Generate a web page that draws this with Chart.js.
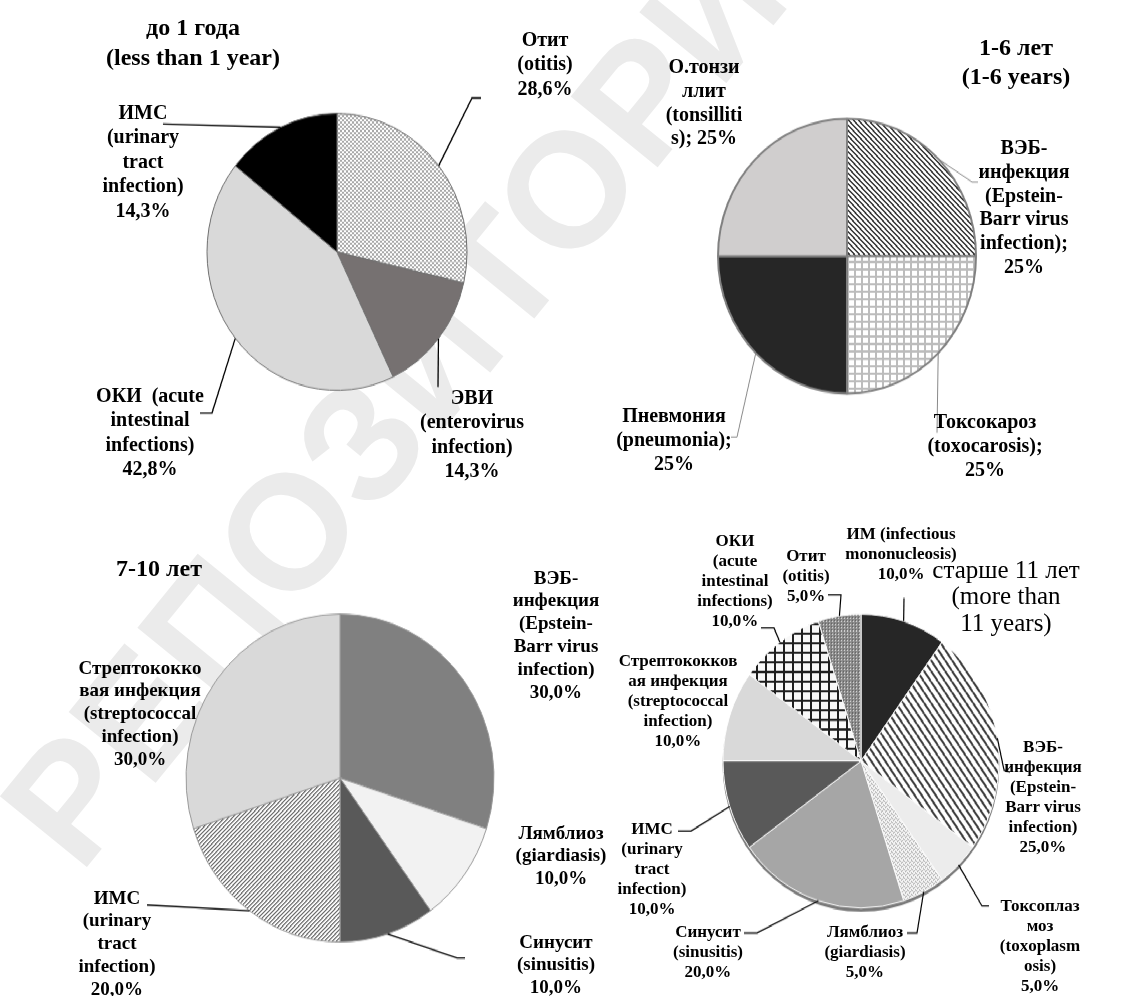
<!DOCTYPE html>
<html><head><meta charset="utf-8">
<script src="https://cdn.jsdelivr.net/npm/chart.js@4.4.1/dist/chart.umd.min.js"></script>
<style>
html,body{margin:0;padding:0;background:#fff;width:1128px;height:996px;overflow:hidden;position:relative;}
#wm{position:absolute;left:430px;top:357px;transform:translate(-50%,-50%) rotate(-50.8deg);font:bold 163px "Liberation Sans",Arial,sans-serif;color:#ebebeb;line-height:1;white-space:nowrap;}
#stage{position:absolute;left:0;top:0;width:1128px;height:935px;transform:scaleY(1.065);transform-origin:0 0;}
#stage canvas{position:absolute;left:0;top:0;}
#labels{position:absolute;left:0;top:0;width:1128px;height:996px;}
.lbl{position:absolute;font-family:"Liberation Serif","Times New Roman",serif;font-weight:bold;color:#000;text-align:center;white-space:pre;transform:translateX(-50%);}
</style></head>
<body>
<div id="wm">РЕПОЗИТОРИЙ</div>
<div id="stage">
<canvas id="c1" width="1128" height="935"></canvas>
<canvas id="c2" width="1128" height="935"></canvas>
<canvas id="c3" width="1128" height="935"></canvas>
<canvas id="c4" width="1128" height="935"></canvas>
</div>
<div id="labels"></div>
<script>
// ---------- data ----------
const c1Categories = ['Отит (otitis)', 'ЭВИ (enterovirus infection)', 'ОКИ (acute intestinal infections)', 'ИМС (urinary tract infection)'];
const c1Values = [28.6, 14.3, 42.8, 14.3];
const c1Text = ['Отит\n(otitis)\n{v}', 'ЭВИ\n(enterovirus\ninfection)\n{v}', 'ОКИ\u00a0 (acute\nintestinal\ninfections)\n{v}', 'ИМС\n(urinary\ntract\ninfection)\n{v}'];
const c1Title = 'до 1 года\n(less than 1 year)';

const c2Categories = ['ВЭБ-инфекция (Epstein-Barr virus infection)', 'Токсокароз (toxocarosis)', 'Пневмония (pneumonia)', 'О.тонзиллит (tonsillitis)'];
const c2Values = [25, 25, 25, 25];
const c2Text = ['ВЭБ-\nинфекция\n(Epstein-\nBarr virus\ninfection);\n{v}', 'Токсокароз\n(toxocarosis);\n{v}', 'Пневмония\n(pneumonia);\n{v}', 'О.тонзи\nллит\n(tonsilliti\ns); {v}'];
const c2Title = '1-6 лет\n(1-6 years)';

const c3Categories = ['ВЭБ-инфекция (Epstein-Barr virus infection)', 'Лямблиоз (giardiasis)', 'Синусит (sinusitis)', 'ИМС (urinary tract infection)', 'Стрептококковая инфекция (streptococcal infection)'];
const c3Values = [30, 10, 10, 20, 30];
const c3Text = ['ВЭБ-\nинфекция\n(Epstein-\nBarr virus\ninfection)\n{v}', 'Лямблиоз\n(giardiasis)\n{v}', 'Синусит\n(sinusitis)\n{v}', 'ИМС\n(urinary\ntract\ninfection)\n{v}', 'Стрептококко\nвая инфекция\n(streptococcal\ninfection)\n{v}'];
const c3Title = '7-10 лет';

const c4Categories = ['ИМ (infectious mononucleosis)', 'ВЭБ-инфекция (Epstein-Barr virus infection)', 'Токсоплазмоз (toxoplasmosis)', 'Лямблиоз (giardiasis)', 'Синусит (sinusitis)', 'ИМС (urinary tract infection)', 'Стрептококковая инфекция (streptococcal infection)', 'ОКИ (acute intestinal infections)', 'Отит (otitis)'];
const c4Values = [10, 25, 5, 5, 20, 10, 10, 10, 5];
const c4Text = ['ИМ (infectious\nmononucleosis)\n{v}', 'ВЭБ-\nинфекция\n(Epstein-\nBarr virus\ninfection)\n{v}', 'Токсоплаз\nмоз\n(toxoplasm\nosis)\n{v}', 'Лямблиоз\n(giardiasis)\n{v}', 'Синусит\n(sinusitis)\n{v}', 'ИМС\n(urinary\ntract\ninfection)\n{v}', 'Стрептококков\nая инфекция\n(streptococcal\ninfection)\n{v}', 'ОКИ\n(acute\nintestinal\ninfections)\n{v}', 'Отит\n(otitis)\n{v}'];
const c4Title = 'старше 11 лет\n(more than\n11 years)';

// ---------- layout ----------
const S = 1.065;           // vertical stretch of the reference
const W = 1128, H = 935;

function pat(w, h, draw) {
  const c = document.createElement('canvas'); c.width = w; c.height = h;
  const g = c.getContext('2d'); draw(g, w, h);
  return g.createPattern(c, 'repeat');
}
const pChecker = pat(4, 4, g => { g.fillStyle = '#a8a8a8'; g.fillRect(0,0,4,4); g.fillStyle = '#fff'; g.fillRect(0,0,2,2); g.fillRect(2,2,2,2); });
const pDiagDark = pat(5, 5, g => { g.fillStyle = '#fff'; g.fillRect(0,0,5,5); g.fillStyle = '#333'; for (let i=0;i<5;i++){ g.fillRect(i,i,1,1); g.fillRect((i+1)%5,i,1,1);} });
const pGrid = pat(7, 7, g => { g.fillStyle = '#fff'; g.fillRect(0,0,7,7); g.fillStyle = '#bcbcbc'; g.fillRect(0,0,7,2); g.fillRect(0,0,2,7); });
const pDiagLight = pat(4, 4, g => { g.fillStyle = '#fff'; g.fillRect(0,0,4,4); for (let i=0;i<4;i++){ g.fillStyle='#555'; g.fillRect(3-i,i,1,1); g.fillStyle='#b5b5b5'; g.fillRect((4-i)%4,i,1,1);} });
const pSteep = pat(7, 10, g => { g.fillStyle = '#fff'; g.fillRect(0,0,7,10); g.strokeStyle = '#3a3a3a'; g.lineWidth = 2; [-7,0,7].forEach(o => { g.beginPath(); g.moveTo(o,0); g.lineTo(o+7,10); g.stroke(); }); });
const pFine = pat(4, 4, g => { g.fillStyle = '#f4f4f4'; g.fillRect(0,0,4,4); g.fillStyle = '#b0b0b0'; g.fillRect(0,0,1,1); g.fillRect(2,1,1,1); g.fillRect(1,2,1,1); g.fillRect(3,3,1,1); g.fillStyle='#d0d0d0'; g.fillRect(3,0,1,1); g.fillRect(1,1,1,1);});
const pBigGrid = pat(9, 9, g => { g.fillStyle = '#f8f8f8'; g.fillRect(0,0,9,9); g.fillStyle = '#1e1e1e'; g.fillRect(0,0,9,2); g.fillRect(0,0,2,9); });
const pDots = pat(3, 3, g => { g.fillStyle = '#8a8a8a'; g.fillRect(0,0,3,3); g.fillStyle = '#e6e6e6'; g.fillRect(1,1,1,1); g.fillStyle = '#5a5a5a'; g.fillRect(0,0,1,1); });

function leaderPlugin(items, color, width) {
  return {
    id: 'leaders',
    afterDatasetsDraw(chart) {
      const meta = chart.getDatasetMeta(0), ctx = chart.ctx;
      ctx.save(); ctx.strokeStyle = color; ctx.lineWidth = width; ctx.lineJoin = 'miter';
      items.forEach((pts, i) => {
        if (!pts) return;
        const a = meta.data[i];
        const mid = (a.startAngle + a.endAngle) / 2;
        ctx.beginPath();
        ctx.moveTo(a.x + Math.cos(mid) * a.outerRadius, a.y + Math.sin(mid) * a.outerRadius);
        pts.forEach(p => ctx.lineTo(p[0], p[1] / S));
        ctx.stroke();
      });
      ctx.restore();
    }
  };
}
function shadowPlugin(off, color) {
  return {
    id: 'pieShadow',
    beforeDatasetsDraw(chart) {
      const a = chart.getDatasetMeta(0).data[0], ctx = chart.ctx;
      ctx.save(); ctx.fillStyle = color; ctx.beginPath();
      ctx.arc(a.x, a.y + off, a.outerRadius + 0.5, 0, Math.PI * 2); ctx.fill(); ctx.restore();
    }
  };
}

function makePie(id, cats, vals, colors, cx, cy, r, bColor, bWidth, plugins) {
  const cyd = cy / S;
  return new Chart(document.getElementById(id), {
    type: 'pie',
    data: { labels: cats, datasets: [{ data: vals, backgroundColor: colors, borderColor: bColor, borderWidth: bWidth, radius: r }] },
    options: {
      responsive: false, animation: false, events: [], devicePixelRatio: 1,
      layout: { padding: { left: cx - r, right: W - cx - r, top: cyd - r, bottom: H - cyd - r } },
      plugins: { legend: { display: false }, tooltip: { enabled: false }, title: { display: false } }
    },
    plugins: plugins
  });
}

makePie('c1', c1Categories, c1Values, [pChecker, '#767171', '#d9d9d9', '#000000'], 337, 252, 130, '#6f6f6f', 1,
  [leaderPlugin([[[472,98],[481,98]], [[438,387]], [[212,413],[200,413]], [[163,124]]], '#000', 1.3)]);
makePie('c2', c2Categories, c2Values, [pDiagDark, pGrid, '#262626', '#d0cece'], 847, 256, 129, '#808080', 2,
  [leaderPlugin([[[972,182],[978,182]], [[937,433]], [[737,437],[731,437]], null], '#8a8a8a', 1)]);
makePie('c3', c3Categories, c3Values, ['#808080', '#f2f2f2', '#595959', pDiagLight, '#d9d9d9'], 340, 778, 154, '#9a9a9a', 1,
  [leaderPlugin([null, null, [[457,958],[465,958]], [[147,905]], null], '#000', 1.3)]);
makePie('c4', c4Categories, c4Values, ['#262626', pSteep, '#ececec', pFine, '#a6a6a6', '#595959', '#d9d9d9', pBigGrid, pDots], 861, 761, 138, '#ffffff', 1,
  [shadowPlugin(3, '#7a7a7a'), leaderPlugin([[[904,598]], [[1004,770],[1010,772]], [[982,906],[989,906]], [[917,933],[907,933]], [[757,933],[744,933]], [[691,831],[678,831]], null, [[774,628],[761,628]], [[841,595],[828,595]]], '#000', 1.2)]);

// ---------- labels (reference coordinates: centre x, first-line centre y) ----------
const fmt1 = v => v.toFixed(1).replace('.', ',') + '%';
const fmt0 = v => Math.round(v) + '%';
const c1Pos = [[545,39],[472,397],[150,395],[143,112]];
const c2Pos = [[1024,148],[985,422],[674,416],[704,67]];
const c3Pos = [[556,578],[561,833],[556,942],[117,898],[140,668]];
const c4Pos = [[901,534],[1043,747],[1040,906],[865,932],[708,932],[652,829],[678,661],[735,541],[806,556]];

const host = document.getElementById('labels');
function addText(txt, x, y, size, lh, weight) {
  const d = document.createElement('div');
  d.className = 'lbl';
  d.textContent = txt;
  d.style.left = x + 'px';
  d.style.top = (y - lh / 2) + 'px';
  d.style.fontSize = size + 'px';
  d.style.lineHeight = lh + 'px';
  d.style.fontWeight = weight || 'bold';
  host.appendChild(d);
}
function addLabels(texts, vals, pos, fmt, size, lh) {
  texts.forEach((t, i) => addText(t.replace('{v}', fmt(vals[i])), pos[i][0], pos[i][1], size, lh));
}
addLabels(c1Text, c1Values, c1Pos, fmt1, 20, 24.5);
addLabels(c2Text, c2Values, c2Pos, fmt0, 20, 23.7);
addLabels(c3Text, c3Values, c3Pos, fmt1, 19, 22.8);
addLabels(c4Text, c4Values, c4Pos, fmt1, 17, 20);
addText(c1Title, 193, 27, 24, 30);
addText(c2Title, 1016, 47, 24, 29);
addText(c3Title, 159, 568, 24, 28);
addText(c4Title, 1006, 570, 25, 26.5, 'normal');
</script>
</body></html>
